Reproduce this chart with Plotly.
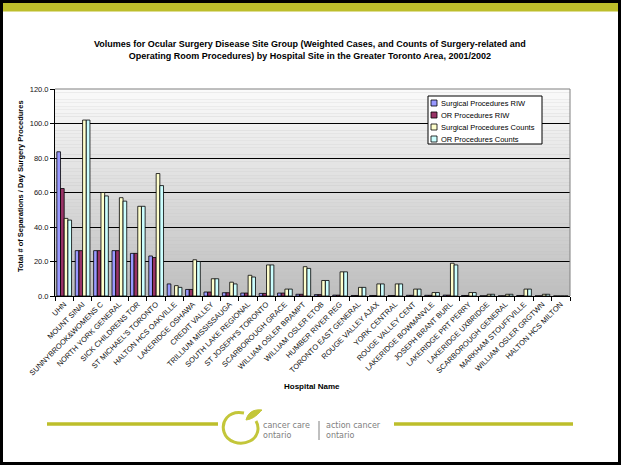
import plotly.graph_objects as go

categories = [
    "UHN", "MOUNT SINAI", "SUNNYBROOK&WOMENS C", "NORTH YORK GENERAL", "SICK CHILDRENS TOR",
    "ST MICHAEL'S TORONTO", "HALTON HCS OAKVILLE", "LAKERIDGE OSHAWA", "CREDIT VALLEY",
    "TRILLIUM MISSISSAUGA", "SOUTH LAKE REGIONAL", "ST JOSEPH'S TORONTO", "SCARBOROUGH GRACE",
    "WILLIAM OSLER BRAMPT", "WILLIAM OSLER ETOB", "HUMBER RIVER REG", "TORONTO EAST GENERAL",
    "ROUGE VALLEY AJAX", "YORK CENTRAL", "ROUGE VALLEY CENT", "LAKERIDGE BOWMANVLE",
    "JOSEPH BRANT BURL", "LAKERIDGE PRT PERRY", "LAKERIDGE UXBRIDGE", "SCARBOROUGH GENERAL",
    "MARKHAM STOUFFVILLE", "WILLIAM OSLER GRGTWN", "HALTON HCS MILTON",
]
surg_riw = [83.6, 26.3, 26.3, 26.3, 24.7, 23.2, 7.0, 3.8, 2.3, 1.9, 1.7, 1.5, 1.7, 1.0,
            0.8, 0.5, 0.3, 0.3, 0.3, 0.4, 0.4, 0.5, 0.3, 0.1, 0.1, 0.3, 0.1, 0.0]
or_riw = [62.3, 26.3, 26.3, 26.3, 24.7, 22.3, 0.0, 3.8, 2.3, 1.9, 1.7, 1.5, 1.7, 1.0,
          0.8, 0.5, 0.3, 0.3, 0.3, 0.4, 0.4, 0.5, 0.3, 0.1, 0.1, 0.3, 0.1, 0.0]
surg_counts = [45, 102, 60, 57, 52, 71, 6, 21, 10, 8, 12, 18, 4, 17, 9, 14, 5, 7, 7, 4,
               2, 19, 2, 1, 1, 4, 1, 0]
or_counts = [44, 102, 58, 55, 52, 64, 5, 20, 10, 7, 11, 18, 4, 16, 9, 14, 5, 7, 7, 4,
             2, 18, 2, 1, 1, 4, 1, 0]
series_names = ["Surgical Procedures RIW", "OR Procedures RIW",
                "Surgical Procedures Counts", "OR Procedures Counts"]
series_colors = ["#9999FF", "#993366", "#FFFFCC", "#CCFFFF"]
y_ticks = [0, 20, 40, 60, 80, 100, 120]
title_text = ("Volumes for Ocular Surgery Disease Site Group (Weighted Cases, and Counts of Surgery-related and<br>"
              "Operating Room Procedures) by Hospital Site in the Greater Toronto Area, 2001/2002")
x_title = "Hospital Name"
y_title = "Total # of Separations / Day Surgery Procedures"

FONT = "Arial, Liberation Sans, sans-serif"
W, H = 621, 465
L, R, T, B = 55, 570, 89, 296


def px(x):
    return (x - L) / (R - L)


def py(y):
    return (B - y) / (B - T)


fig = go.Figure()
for name, vals, col in zip(series_names, [surg_riw, or_riw, surg_counts, or_counts], series_colors):
    fig.add_trace(go.Bar(x=categories, y=vals, name=name, showlegend=False,
                         marker=dict(color=col, line=dict(color="black", width=0.8))))

shapes = []
# gradient plot background
N = 60
for i in range(N):
    f = i / N
    v = int(round(190 + (250 - 190) * (f + 0.5 / N)))
    shapes.append(dict(type="rect", xref="paper", yref="paper", x0=0, x1=1,
                       y0=f, y1=(i + 1) / N, fillcolor=f"rgb({v},{v},{v})",
                       line=dict(width=0), layer="below"))
# top/right border of plot area (gray)
shapes.append(dict(type="line", xref="paper", yref="paper", x0=0, x1=1, y0=1, y1=1,
                   line=dict(color="#808080", width=1.2)))
shapes.append(dict(type="line", xref="paper", yref="paper", x0=1, x1=1, y0=0, y1=1,
                   line=dict(color="#808080", width=1)))
# page frame
shapes.append(dict(type="rect", xref="paper", yref="paper", x0=px(3), x1=px(618),
                   y0=py(1.5), y1=py(11.5), fillcolor="#BDBE2B", line=dict(width=0)))
shapes.append(dict(type="rect", xref="paper", yref="paper", x0=px(1.5), x1=px(619.5),
                   y0=py(463.5), y1=py(1.5), line=dict(color="black", width=3)))
# footer lines
shapes.append(dict(type="line", xref="paper", yref="paper", x0=px(47), x1=px(218),
                   y0=py(424), y1=py(424), line=dict(color="#BDBE2B", width=3.5)))
shapes.append(dict(type="line", xref="paper", yref="paper", x0=px(394), x1=px(573),
                   y0=py(424), y1=py(424), line=dict(color="#BDBE2B", width=3.5)))


def P(x, y):
    return f"{px(x):.5f},{py(y):.5f}"


# logo swirl
swirl = (f"M {P(244, 413)} C {P(228, 410)} {P(221, 422)} {P(224, 432)} "
         f"C {P(227, 442)} {P(240, 446)} {P(250, 441)} C {P(258, 437)} {P(260, 428)} {P(256, 421)}")
leaf = (f"M {P(246, 420)} C {P(248, 412)} {P(254, 409)} {P(262, 410)} "
        f"C {P(258, 414)} {P(254, 419)} {P(246, 420)} Z")
shapes.append(dict(type="path", xref="paper", yref="paper", path=swirl,
                   line=dict(color="#C3C63A", width=3)))
shapes.append(dict(type="path", xref="paper", yref="paper", path=leaf,
                   fillcolor="#C3C63A", line=dict(color="#C3C63A", width=1)))

annotations = []
# legend
shapes.append(dict(type="rect", xref="paper", yref="paper", x0=px(428), x1=px(542),
                   y0=py(144), y1=py(96), fillcolor="white", line=dict(color="black", width=1)))
for i, (name, col) in enumerate(zip(series_names, series_colors)):
    yc = 103 + 12 * i
    shapes.append(dict(type="rect", xref="paper", yref="paper", x0=px(431), x1=px(437),
                       y0=py(yc + 3), y1=py(yc - 3), fillcolor=col,
                       line=dict(color="black", width=0.8)))
    annotations.append(dict(text=name, xref="paper", yref="paper", x=px(439), y=py(yc),
                            xanchor="left", yanchor="middle", showarrow=False,
                            font=dict(family=FONT, size=7.5, color="black")))

annotations.append(dict(text="<b>" + title_text.replace("<br>", "</b><br><b>") + "</b>",
                        xref="paper", yref="paper", x=px(310), y=py(50),
                        xanchor="center", yanchor="middle", showarrow=False,
                        font=dict(family=FONT, size=9, color="black")))
annotations.append(dict(text=f"<b>{x_title}</b>", xref="paper", yref="paper", x=px(312), y=py(386),
                        xanchor="center", yanchor="middle", showarrow=False,
                        font=dict(family=FONT, size=8, color="black")))
annotations.append(dict(text=f"<b>{y_title}</b>", xref="paper", yref="paper", x=px(20), y=py(186),
                        xanchor="center", yanchor="middle", showarrow=False, textangle=-90,
                        font=dict(family=FONT, size=7.5, color="black")))
# logo text
annotations.append(dict(text="cancer care<br>ontario", xref="paper", yref="paper", x=px(261), y=py(430),
                        xanchor="left", yanchor="middle", showarrow=False, align="left",
                        font=dict(family="DejaVu Sans, sans-serif", size=8, color="#808080")))
annotations.append(dict(text="action cancer<br>ontario", xref="paper", yref="paper", x=px(324), y=py(430),
                        xanchor="left", yanchor="middle", showarrow=False, align="left",
                        font=dict(family="DejaVu Sans, sans-serif", size=8, color="#808080")))
shapes.append(dict(type="line", xref="paper", yref="paper", x0=px(319), x1=px(319),
                   y0=py(421), y1=py(440), line=dict(color="#808080", width=1)))

fig.update_layout(
    width=W, height=H,
    margin=dict(l=L, r=W - R, t=T, b=H - B, pad=0),
    paper_bgcolor="white", plot_bgcolor="#C0C0C0",
    barmode="group", bargap=0.2, bargroupgap=0.0,
    font=dict(family=FONT, size=7.5, color="black"),
    shapes=shapes, annotations=annotations,
    xaxis=dict(type="category", tickangle=-45, tickfont=dict(size=7.5, family=FONT, color="#111"),
               showline=True, linecolor="black", linewidth=1, ticks="outside",
               tickson="boundaries", ticklen=4, tickcolor="black", showgrid=False,
               range=[-0.5, len(categories) - 0.5]),
    yaxis=dict(range=[0, 120], tickvals=y_ticks, tickformat=".1f", showline=True,
               linecolor="black", linewidth=1, ticks="outside", ticklen=4, tickcolor="black",
               showgrid=True, gridcolor="black", gridwidth=1, zeroline=False,
               tickfont=dict(size=7.5, family=FONT, color="#111")),
)
fig.write_html("out.html")
